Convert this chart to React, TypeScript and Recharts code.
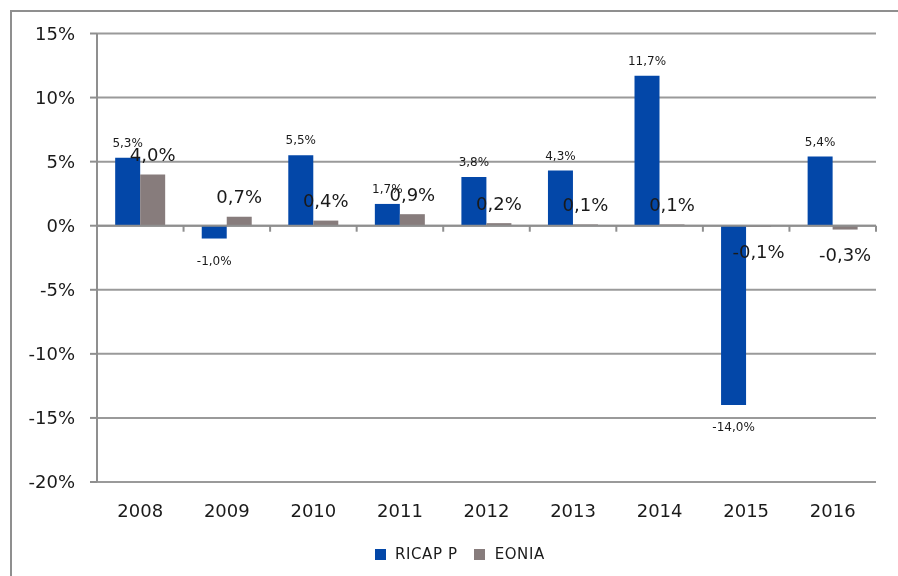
import React from 'react';
import { BarChart, Bar, XAxis, YAxis, CartesianGrid, ReferenceLine, LabelList } from 'recharts';

const years = ['2008', '2009', '2010', '2011', '2012', '2013', '2014', '2015', '2016'];
const ricapP = [5.3, -1.0, 5.5, 1.7, 3.8, 4.3, 11.7, -14.0, 5.4];
const eonia = [4.0, 0.7, 0.4, 0.9, 0.2, 0.1, 0.1, -0.1, -0.3];
const yTicks = [-20, -15, -10, -5, 0, 5, 10, 15];

const data = years.map((year, i) => ({ year, ricap: ricapP[i], eonia: eonia[i] }));

const BLUE = '#0347A8';
const GREY = '#877C7C';
const AXIS = '#8f8f8f';
const FONT = '"DejaVu Sans", Verdana, sans-serif';

const fmt = (v: number) => `${v.toFixed(1).replace('.', ',')}%`;

// label placed above positive bars / below negative ones
const makeLabel = (size: number, above: number, below: number) => (props: any) => {
  const { x, y, width, height, value } = props;
  const top = Math.min(y, y + height);
  const bottom = Math.max(y, y + height);
  const cy = value >= 0 ? top - above : bottom + below;
  return (
    <text
      x={x + width / 2}
      y={cy}
      textAnchor="middle"
      dominantBaseline="central"
      fontSize={size}
      fontFamily={FONT}
      fill="#1a1a1a"
    >
      {fmt(value)}
    </text>
  );
};

// zero axis line with tick marks between the categories
const ZeroAxis = (props: any) => {
  const { x1, x2, y1 } = props;
  const step = (x2 - x1) / years.length;
  return (
    <g>
      <line x1={x1} x2={x2} y1={y1} y2={y1} stroke={AXIS} strokeWidth={2} />
      {years.concat(['']).map((_, k) => (
        <line key={k} x1={x1 + k * step} x2={x1 + k * step} y1={y1} y2={y1 + 6} stroke={AXIS} strokeWidth={2} />
      ))}
    </g>
  );
};

export default function App() {
  return (
    <div style={{ position: 'relative', width: 882, height: 560, fontFamily: FONT }}>
      <div
        style={{
          position: 'fixed',
          left: 10,
          top: 10,
          width: 2000,
          height: 2000,
          borderTop: `2px solid ${AXIS}`,
          borderLeft: `2px solid ${AXIS}`,
        }}
      />
      <BarChart
        width={882}
        height={560}
        data={data}
        margin={{ top: 25.5, right: 14, bottom: 46, left: 0 }}
        barCategoryGap="21%"
        barGap={0}
        style={{ position: 'absolute', left: 0, top: 0 }}
      >
        <CartesianGrid vertical={false} stroke="#9a9a9a" strokeWidth={2} />
        <XAxis
          dataKey="year"
          axisLine={false}
          tickLine={false}
          tickSize={0}
          tickMargin={22}
          height={40}
          tick={{ fontSize: 18, fill: '#1a1a1a', fontFamily: FONT }}
        />
        <YAxis
          width={89}
          domain={[-20, 15]}
          ticks={yTicks}
          interval={0}
          tickFormatter={(v: number) => `${v}%`}
          stroke={AXIS}
          tickSize={7}
          tickMargin={15}
          axisLine={{ stroke: AXIS, strokeWidth: 2 }}
          tickLine={{ stroke: AXIS, strokeWidth: 2 }}
          tick={{ fontSize: 18, fill: '#1a1a1a', fontFamily: FONT }}
        />
        <Bar dataKey="ricap" name="RICAP P" fill={BLUE} isAnimationActive={false}>
          <LabelList dataKey="ricap" content={makeLabel(12, 15, 22)} />
        </Bar>
        <Bar dataKey="eonia" name="EONIA" fill={GREY} isAnimationActive={false}>
          <LabelList dataKey="eonia" content={makeLabel(18, 20, 25)} />
        </Bar>
        <ReferenceLine y={0} shape={<ZeroAxis />} />
      </BarChart>
      <div
        style={{
          position: 'absolute',
          left: 367,
          top: 537,
          height: 18,
          display: 'flex',
          alignItems: 'center',
          fontSize: 15,
          letterSpacing: 0.6,
          color: '#1a1a1a',
        }}
      >
        <span style={{ width: 11, height: 11, background: BLUE, marginRight: 9 }} />
        <span style={{ marginRight: 16 }}>RICAP P</span>
        <span style={{ width: 11, height: 11, background: GREY, marginRight: 10 }} />
        <span>EONIA</span>
      </div>
    </div>
  );
}
